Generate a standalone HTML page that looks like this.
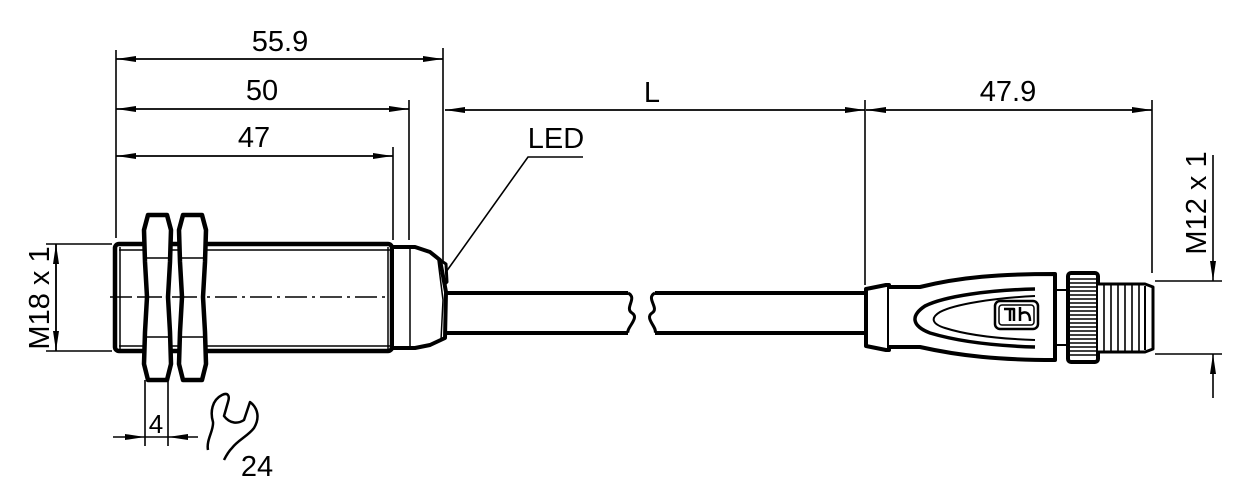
<!DOCTYPE html>
<html><head><meta charset="utf-8"><style>
html,body{margin:0;padding:0;background:#fff;}
svg{display:block;}
text{font-family:"Liberation Sans",Arial,sans-serif;fill:#000;}
</style></head><body>
<svg width="1252" height="496" viewBox="0 0 1252 496" xmlns="http://www.w3.org/2000/svg">
<defs>
<marker id="a" viewBox="0 0 20 8" refX="20" refY="4" markerWidth="20" markerHeight="8" markerUnits="userSpaceOnUse" orient="auto"><path d="M0,1 L20,4 L0,7 Z" fill="#000"/></marker>
</defs>
<g stroke="#000" stroke-width="1.6" fill="none">
<line x1="116" y1="50" x2="116" y2="238"/>
<line x1="443" y1="48" x2="443" y2="262"/>
<line x1="409" y1="100" x2="409" y2="240"/>
<line x1="393" y1="147" x2="393" y2="240"/>
<line x1="865" y1="100" x2="865" y2="285"/>
<line x1="1152" y1="100" x2="1152" y2="273"/>
<line x1="116" y1="59" x2="443" y2="59" marker-end="url(#a)"/>
<line x1="443" y1="59" x2="116" y2="59" marker-end="url(#a)"/>
<line x1="116" y1="109" x2="409" y2="109" marker-end="url(#a)"/>
<line x1="409" y1="109" x2="116" y2="109" marker-end="url(#a)"/>
<line x1="116" y1="156" x2="393" y2="156" marker-end="url(#a)"/>
<line x1="393" y1="156" x2="116" y2="156" marker-end="url(#a)"/>
<line x1="865" y1="110" x2="445" y2="110" marker-end="url(#a)"/>
<line x1="445" y1="110" x2="865" y2="110" marker-end="url(#a)"/>
<line x1="866" y1="110" x2="1152" y2="110" marker-end="url(#a)"/>
<line x1="1152" y1="110" x2="866" y2="110" marker-end="url(#a)"/>
<line x1="46" y1="244" x2="112" y2="244"/>
<line x1="46" y1="351" x2="112" y2="351"/>
<line x1="56" y1="244" x2="56" y2="351" marker-end="url(#a)"/>
<line x1="56" y1="351" x2="56" y2="244" marker-end="url(#a)"/>
<line x1="1155" y1="281" x2="1222" y2="281"/>
<line x1="1155" y1="354" x2="1222" y2="354"/>
<line x1="1213" y1="155" x2="1213" y2="281" marker-end="url(#a)"/>
<line x1="1213" y1="398" x2="1213" y2="354" marker-end="url(#a)"/>
<line x1="145" y1="380" x2="145" y2="446"/>
<line x1="168" y1="380" x2="168" y2="446"/>
<line x1="113" y1="437" x2="145" y2="437" marker-end="url(#a)"/>
<line x1="198" y1="437" x2="168" y2="437" marker-end="url(#a)"/>
<line x1="145" y1="437" x2="168" y2="437"/>
<polyline points="446,272 528,157 583,157"/>
<line x1="110" y1="297" x2="432" y2="297" stroke-width="1.4" stroke-dasharray="22,5,3,5"/>
</g>
<g stroke="#000" fill="none" stroke-linejoin="round">
<rect x="115" y="244" width="277" height="107" rx="4" stroke-width="4.5"/>
<line x1="119" y1="250" x2="390" y2="250" stroke-width="1.5"/>
<line x1="119" y1="346" x2="390" y2="346" stroke-width="1.5"/>
<line x1="120" y1="247" x2="120" y2="349" stroke-width="1.5"/>
<line x1="388" y1="247" x2="388" y2="349" stroke-width="1.5"/>
<path d="M392,247 L415,247 L430,252 L440,260 L446,292 L445,338 L430,345 L415,348 L392,348 Z" stroke-width="4" fill="#fff"/>
<line x1="410" y1="248" x2="410" y2="347" stroke-width="1.5"/>
<path d="M430,252 L438,260 L443,300 L441,340" stroke-width="1.5"/>
<path d="M440,260 L446,264 L447,282 L444,285" stroke-width="3"/>
<path d="M148,215 L167,215 L171,230 L170,262 L168,297 L170,332 L171,364 L167,380 L148,380 L144,364 L145,332 L147,297 L145,262 L144,230 Z" stroke-width="4.5" fill="#fff"/>
<line x1="147" y1="258" x2="168" y2="258" stroke-width="1.5"/>
<line x1="147" y1="337" x2="168" y2="337" stroke-width="1.5"/>
<path d="M183,215 L202,215 L206,230 L205,262 L203,297 L205,332 L206,364 L202,380 L183,380 L179,364 L180,332 L182,297 L180,262 L179,230 Z" stroke-width="4.5" fill="#fff"/>
<line x1="182" y1="258" x2="203" y2="258" stroke-width="1.5"/>
<line x1="182" y1="337" x2="203" y2="337" stroke-width="1.5"/>
<line x1="140" y1="297" x2="210" y2="297" stroke-width="1.4" stroke-dasharray="22,5,3,5"/>
<path d="M446,293 L628,293 M446,333 L628,333" stroke-width="4"/>
<path d="M628,293 C638,298 624,308 632,313 C640,318 626,328 628,333" stroke-width="3"/>
<path d="M655,293 C645,298 660,308 652,313 C644,318 658,328 655,333" stroke-width="3"/>
<path d="M655,293 L866,293 M655,333 L866,333" stroke-width="4"/>
<path d="M866,289 L886,285 L889,285 L889,350 L886,350 L866,346 Z" stroke-width="4" fill="#fff"/>
<path d="M889,287 L920,287 C960,277 1000,274 1055,274 L1055,360 C1000,360 960,356 920,347 L889,347" stroke-width="4" fill="#fff"/>
<path d="M1035,289 C990,290 945,296 925,306 C910,316 912,326 930,333 C960,342 1000,346 1035,347" stroke-width="3.5"/>
<path d="M1035,296 C995,298 955,304 940,312 C930,318 932,324 945,328 C970,336 1005,339 1035,340" stroke-width="2"/>
<rect x="995" y="301" width="43" height="28" rx="5" stroke-width="2.5"/>
<rect x="999" y="305" width="35" height="20" rx="3" stroke-width="1.5"/>
<path d="M1004,309 L1014,309 L1014,321 M1010,309 L1010,321 M1020,307 L1020,321 M1020,314 C1027,310 1030,314 1030,321" stroke-width="2.5"/>
<line x1="1055" y1="290" x2="1068" y2="290" stroke-width="2"/>
<line x1="1055" y1="345" x2="1068" y2="345" stroke-width="2"/>
<rect x="1068" y="273" width="30" height="89" rx="3" stroke-width="4" fill="#fff"/>
<path d="M1070,279h26M1070,283h26M1070,287h26M1070,291h26M1070,295h26M1070,299h26M1070,303h26M1070,307h26M1070,311h26M1070,315h26M1070,319h26M1070,323h26M1070,327h26M1070,331h26M1070,335h26M1070,339h26M1070,343h26M1070,347h26M1070,351h26M1070,355h26" stroke-width="1.4"/>
<path d="M1098,284 L1145,284 L1153,287 L1153,349 L1145,352 L1098,352" stroke-width="3" fill="#fff"/>
<path d="M1104,284v68M1111,284v68M1118,284v68M1125,284v68M1132,284v68M1139,284v68" stroke-width="1.6"/>
<line x1="1145" y1="286" x2="1145" y2="350" stroke-width="2"/>
<path d="M208,450 C206,440 214,430 213,422 C210,412 212,400 222,395 C228,392 230,396 228,402 L224,416 C230,424 238,424 244,420 L250,402 C258,408 260,418 254,428 C248,436 238,440 232,448 C228,452 226,456 224,460" stroke-width="2.5"/>
</g>
<g font-size="29">
<text x="280" y="51" text-anchor="middle">55.9</text>
<text x="262" y="100" text-anchor="middle">50</text>
<text x="254" y="147" text-anchor="middle">47</text>
<text x="652" y="102" text-anchor="middle">L</text>
<text x="1008" y="101" text-anchor="middle">47.9</text>
<text x="556" y="148" text-anchor="middle">LED</text>
<text x="156" y="433" text-anchor="middle" font-size="26">4</text>
<text x="257" y="476" text-anchor="middle">24</text>
<text transform="translate(49,298) rotate(-90)" text-anchor="middle">M18 x 1</text>
<text transform="translate(1206,203) rotate(-90)" text-anchor="middle">M12 x 1</text>
</g>
</svg>
</body></html>
